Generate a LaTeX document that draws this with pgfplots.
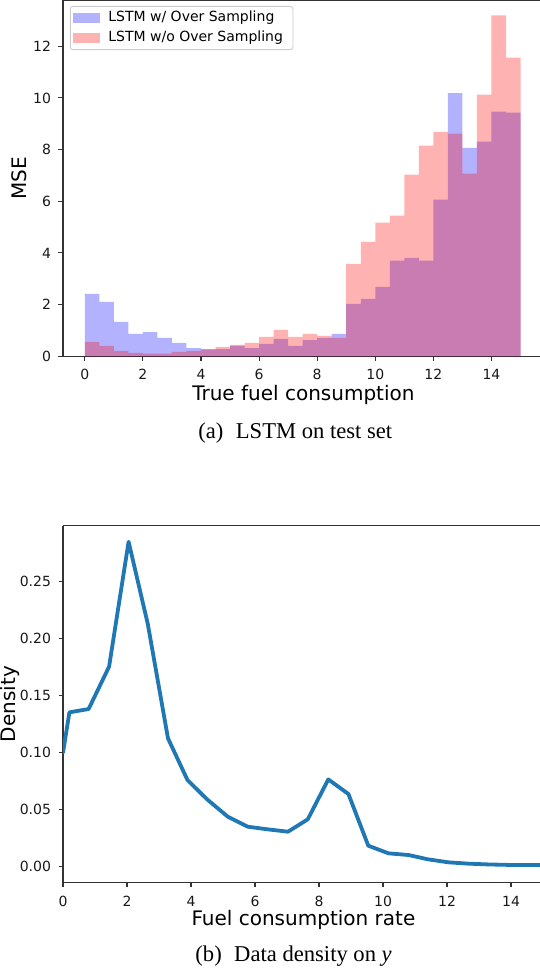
\documentclass[border=0pt]{standalone}
\usepackage{fontspec}
\setmainfont{DejaVu Sans}
\newfontfamily\capfont{Liberation Serif}
\usepackage{pgfplots}
\pgfplotsset{compat=1.18}

\definecolor{tabblue}{RGB}{31,119,180}
\definecolor{spine}{gray}{0.2}

\pgfplotsset{
  common/.style={
    scale only axis,
    width=477pt,
    axis x line*=box, axis y line*=left,
    xtick pos=left, ytick pos=left,
    tick align=outside,
    major tick length=4.5pt,
    minor tick num=0,
    axis line style={spine, line width=1.1pt},
    tick style={spine, line width=1.1pt},
    /pgf/number format/assume math mode=true,
    tick label style={font=\fontsize{14}{16}\selectfont, text=black!90},
    yticklabel shift=4pt,
    label style={font=\fontsize{20}{24}\selectfont},
    enlargelimits=false,
  },
}

\begin{document}
\begin{tikzpicture}
\useasboundingbox (0,0) rectangle (540pt,972pt);

% (a) MSE per bin of true fuel consumption
\begin{axis}[
  common,
  at={(63pt,615.7pt)}, anchor=south west,
  height=356.3pt,
  xmin=-0.75, xmax=15.67, ymin=0, ymax=13.79,
  xtick={0,2,...,14}, ytick={0,2,...,12},
  xticklabel shift=4.7pt,
  xlabel={True fuel consumption}, ylabel={MSE},
  xlabel style={at={(axis description cs:0.504,-0.1246)}, anchor=base},
  ylabel style={at={(axis description cs:-0.0761,0.5)}, anchor=base},
  ybar, bar width=0.5,
  legend cell align=left,
  legend style={at={(0,1)}, anchor=north west, xshift=6.9pt, yshift=-6pt,
    draw=black!20, line width=0.9pt, rounded corners=2.5pt,
    fill=white, fill opacity=0.8, text opacity=1,
    font=\fontsize{14}{16}\selectfont,
    inner xsep=3pt, inner ysep=3.2pt, row sep=3.2pt, column sep=6pt,
    nodes={inner sep=2pt, text height=10pt, text depth=2.8pt}},
]
\addplot[fill=blue, fill opacity=0.3, draw=none, bar shift=0pt,
  legend image code/.code={\fill[blue, fill opacity=0.3, sharp corners] (0pt,-4.85pt) rectangle (27pt,4.85pt);}]
coordinates {
  (0.25,2.42) (0.75,2.11) (1.25,1.33) (1.75,0.87) (2.25,0.94) (2.75,0.71)
  (3.25,0.52) (3.75,0.32) (4.25,0.27) (4.75,0.28) (5.25,0.40) (5.75,0.32)
  (6.25,0.48) (6.75,0.67) (7.25,0.40) (7.75,0.63) (8.25,0.71) (8.75,0.87)
  (9.25,2.03) (9.75,2.22) (10.25,2.69) (10.75,3.70) (11.25,3.81) (11.75,3.70)
  (12.25,6.06) (12.75,10.19) (13.25,8.07) (13.75,8.31) (14.25,9.47) (14.75,9.43)
};
\addlegendentry{LSTM w/ Over Sampling\hspace*{5pt}}
\addplot[fill=red, fill opacity=0.3, draw=none, bar shift=0pt,
  legend image code/.code={\fill[red, fill opacity=0.3, sharp corners] (0pt,-4.85pt) rectangle (27pt,4.85pt);}]
coordinates {
  (0.25,0.56) (0.75,0.40) (1.25,0.21) (1.75,0.13) (2.25,0.10) (2.75,0.10)
  (3.25,0.17) (3.75,0.21) (4.25,0.28) (4.75,0.36) (5.25,0.44) (5.75,0.52)
  (6.25,0.75) (6.75,1.02) (7.25,0.75) (7.75,0.87) (8.25,0.79) (8.75,0.71)
  (9.25,3.58) (9.75,4.43) (10.25,5.17) (10.75,5.44) (11.25,7.03) (11.75,8.15)
  (12.25,8.69) (12.75,8.62) (13.25,7.07) (13.75,10.13) (14.25,13.19) (14.75,11.56)
};
\addlegendentry{LSTM w/o Over Sampling\hspace*{5pt}}
\end{axis}

% (b) density of the target
\begin{axis}[
  common,
  at={(63pt,89.7pt)}, anchor=south west,
  height=356.6pt,
  xmin=0, xmax=14.906, ymin=-0.01406, ymax=0.2993,
  xtick={0,2,...,14}, ytick={0,0.05,0.1,0.15,0.2,0.25},
  xticklabel shift=6pt,
  scaled y ticks=false,
  yticklabel style={/pgf/number format/.cd, fixed, fixed zerofill, precision=2},
  xlabel={Fuel consumption rate}, ylabel={Density},
  xlabel style={at={(axis description cs:0.504,-0.1225)}, anchor=base},
  ylabel style={at={(axis description cs:-0.0996,0.5)}, anchor=base},
]
\addplot[tabblue, line width=3.8pt, line join=round, line cap=round] coordinates {
  (0,0.0998) (0.20,0.1353) (0.80,0.1382) (1.44,0.1754) (2.05,0.2852)
  (2.65,0.2129) (3.28,0.1125) (3.89,0.0758) (4.50,0.0589) (5.15,0.0436)
  (5.77,0.0348) (6.39,0.0325) (7.03,0.0304) (7.65,0.0413) (8.29,0.0764)
  (8.92,0.0635) (9.54,0.0181) (10.17,0.0114) (10.80,0.0099) (11.39,0.0062)
  (12.04,0.0035) (12.68,0.0023) (13.33,0.0016) (13.95,0.0012) (14.60,0.0011)
  (15.20,0.0010)
};
\end{axis}

\node[anchor=base, font=\capfont\fontsize{22.6}{27}\selectfont] at (295.3pt,533.7pt)
  {(a)\hspace{0.55em}LSTM on test set};
\node[anchor=base, font=\capfont\fontsize{22.6}{27}\selectfont] at (293.6pt,10.3pt)
  {(b)\hspace{0.55em}Data density on {\itshape y}};
\end{tikzpicture}
\end{document}
